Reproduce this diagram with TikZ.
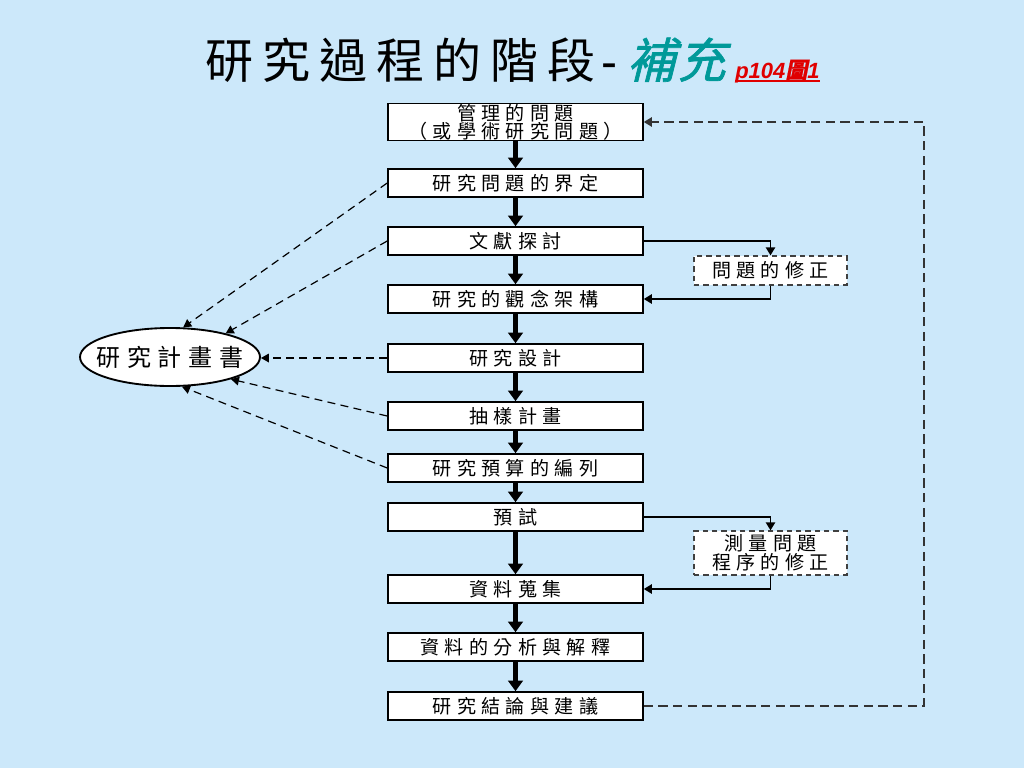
\documentclass[tikz,border=0pt]{standalone}
\usepackage{fontspec}
\setmainfont{Liberation Sans}
\newfontfamily\boxcjk{Noto Sans CJK TC}[LetterSpace=28]
\newfontfamily\ellcjk{Noto Sans CJK TC}[LetterSpace=28]
\newfontfamily\titlecjk{Noto Sans CJK TC}[LetterSpace=19]
\newfontfamily\tealcjk{Noto Sans CJK TC}[FakeSlant=0.25,FakeBold=1.5,LetterSpace=5]
\newfontfamily\redcjk{Noto Sans CJK TC}[FakeSlant=0.2,FakeBold=1]
\usetikzlibrary{arrows.meta,shapes.geometric}
\definecolor{bg}{HTML}{CCE8FA}
\definecolor{tealtitle}{HTML}{009999}
\definecolor{redref}{HTML}{E00000}
\begin{document}
\begin{tikzpicture}[x=0.75pt,y=-0.75pt,
  stagebox/.style={draw=black, line width=1.2pt, fill=white, minimum width=191.25pt,
    minimum height=21pt, inner sep=0pt, align=center,
    font=\boxcjk\fontsize{14.3pt}{13.6pt}\selectfont},
  sidebox/.style={draw=black!75, dash pattern=on 4pt off 3pt, line width=1pt, fill=white,
    minimum width=114.75pt, inner sep=0pt, align=center,
    font=\boxcjk\fontsize{14.3pt}{14pt}\selectfont},
  mainarrow/.style={line width=3.4pt, -{Triangle[width=11pt,length=8pt]}},
  thinarrow/.style={line width=1.1pt, -{Triangle[width=7pt,length=6pt]}},
  dasharrow/.style={line width=0.9pt, draw=black, dash pattern=on 6pt off 4pt,
    -{Triangle[width=6.5pt,length=6pt]}},
  backdash/.style={line width=1pt, draw=black!80, dash pattern=on 7pt off 4pt,
    -{Triangle[width=7pt,length=6pt]}}
]
\fill[bg] (0,0) rectangle (1024,768);
\useasboundingbox (0,0) rectangle (1024,768);

% title
\node[anchor=base west, inner sep=0pt, font=\titlecjk\fontsize{36pt}{36pt}\selectfont] (t1) at (205,78) {研究過程的階段};
\node[anchor=base west, inner sep=0pt, font=\fontsize{36pt}{36pt}\selectfont] (th) at (601,78) {-};
\node[anchor=base west, inner sep=0pt, text=tealtitle, font=\tealcjk\fontsize{36pt}{36pt}\selectfont] (t2) at (627,78) {補充};
\node[anchor=base west, inner sep=0pt, text=redref, font=\bfseries\itshape\fontsize{16.5pt}{16pt}\selectfont] (t3) at (735,78) {p104{\redcjk 圖}1};
\draw[redref, line width=1.3pt] ([yshift=-2.5pt]t3.base west) -- ([yshift=-2.5pt]t3.base east);

% main column
\node[stagebox, minimum height=27.5pt] (b1) at (515.5,122) {管理的問題\\（或學術研究問題）};
\node[stagebox] (b2) at (515.5,183) {研究問題的界定};
\node[stagebox] (b3) at (515.5,241) {文獻探討};
\node[stagebox] (b4) at (515.5,299) {研究的觀念架構};
\node[stagebox] (b5) at (515.5,358) {研究設計};
\node[stagebox] (b6) at (515.5,416) {抽樣計畫};
\node[stagebox] (b7) at (515.5,468) {研究預算的編列};
\node[stagebox] (b8) at (515.5,517) {預試};
\node[stagebox] (b9) at (515.5,589) {資料蒐集};
\node[stagebox] (b10) at (515.5,647) {資料的分析與解釋};
\node[stagebox] (b11) at (515.5,706) {研究結論與建議};

% side boxes
\node[sidebox, minimum height=21.75pt] (s1) at (770.5,270.5) {問題的修正};
\node[sidebox, minimum height=33pt] (s2) at (770.5,553) {測量問題\\程序的修正};

% ellipse
\node[ellipse, draw=black, line width=1.4pt, fill=white, minimum width=135pt,
  minimum height=43.5pt, inner sep=0pt,
  font=\ellcjk\fontsize{18pt}{18pt}\selectfont] (e) at (170,357) {\makebox[0pt][c]{研究計畫書}};

% main arrows
\foreach \a/\b in {b1/b2,b2/b3,b3/b4,b4/b5,b5/b6,b6/b7,b7/b8,b8/b9,b9/b10,b10/b11}
  \draw[mainarrow] (\a.south) -- (\b.north);

% revision loops
\draw[thinarrow] (b3.east) -| (s1.north);
\draw[thinarrow] (s1.south) |- (b4.east);
\draw[thinarrow] (b8.east) -| (s2.north);
\draw[thinarrow] (s2.south) |- (b9.east);

% feedback
\coordinate (rc) at (924,706);
\draw[backdash] (b11.east) -- (rc) |- (b1.east);

% to proposal
\draw[dasharrow] (b2.west) -- (e.66);
\draw[dasharrow] (b3.west) -- (e.23);
\draw[dasharrow] (b5.west) -- (e.east |- b5.west);
\draw[dasharrow] (b6.west) -- (e.-20);
\draw[dasharrow] (b7.west) -- (e.-68);
\end{tikzpicture}
\end{document}
